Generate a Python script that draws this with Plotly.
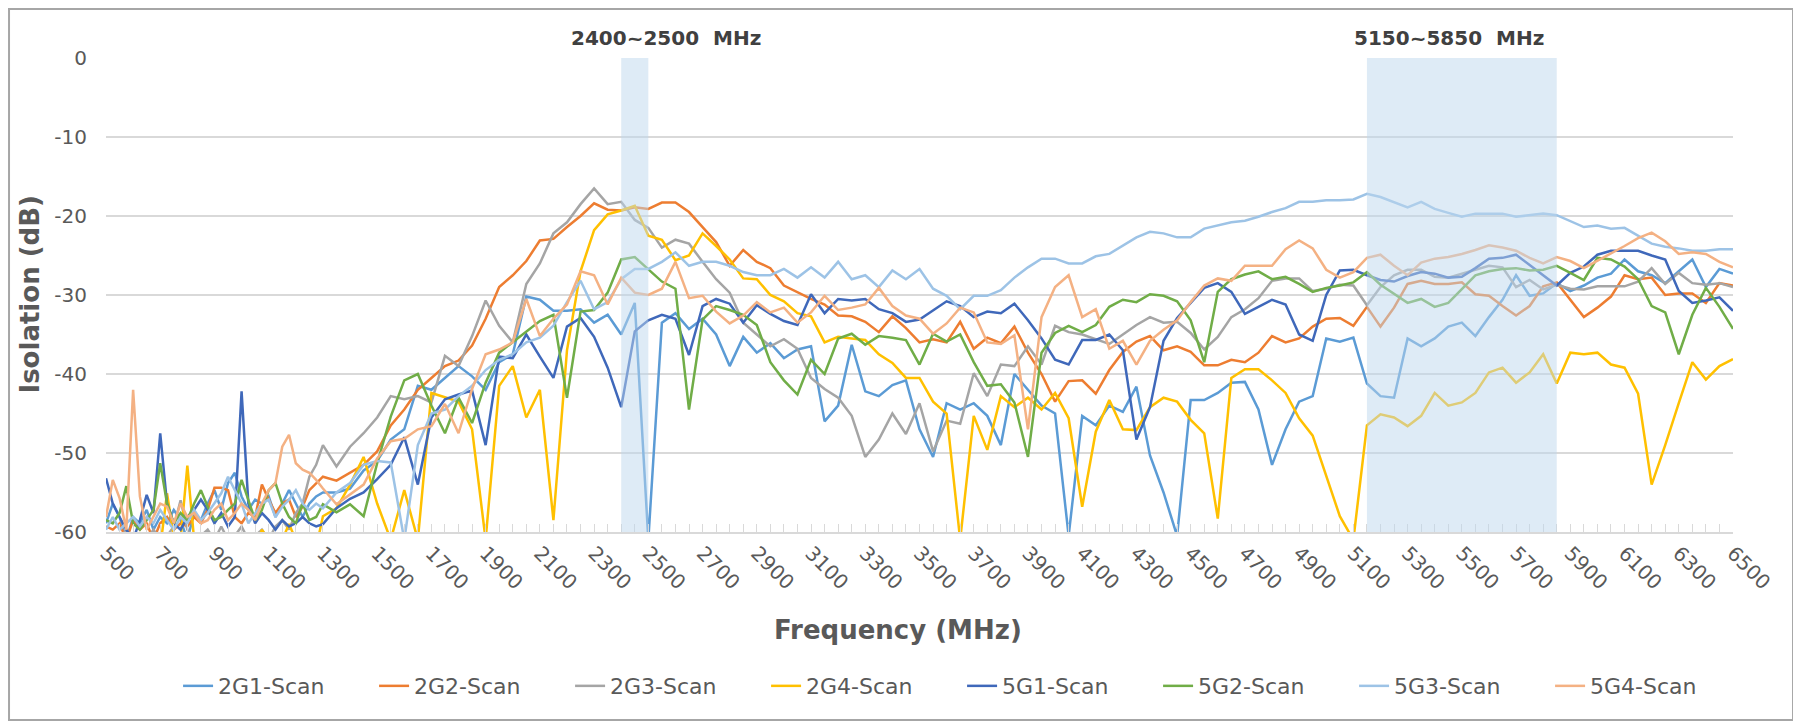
import plotly.graph_objects as go

# Frequency categories (MHz): 25 MHz steps in the noisy low band, 50 MHz afterwards
FREQ = list(range(500, 1300, 25)) + list(range(1300, 6550, 50))

SERIES_NAMES = ["2G1-Scan", "2G2-Scan", "2G3-Scan", "2G4-Scan",
                "5G1-Scan", "5G2-Scan", "5G3-Scan", "5G4-Scan"]
SERIES_COLORS = ["#5B9BD5", "#ED7D31", "#A5A5A5", "#FFC000",
                 "#3F68BA", "#70AD47", "#9DC3E6", "#F4B183"]

Y_TICK_VALS = [0, -10, -20, -30, -40, -50, -60]
Y_TICK_TEXT = ["0", "-10", "-20", "-30", "-40", "-50", "-60"]

g2_1 = [-58.9, -56.4, -58.1, -61, -58.1, -58.9, -57.2, -59.7, -58.1, -58.9, -57.2, -58.5, -61, -57.6, -58.5, -56.4,
        -54.7, -57.2, -53.8, -52.5, -55.5, -57.2, -55.9, -56.4, -55.5, -58.1, -56.4, -54.7, -56.4, -58.1, -56.4, -55.5,
        -55, -55, -54.5, -52.2, -51, -48.3, -47, -41.5, -42, -40.5, -39, -40.3, -42, -38.5, -37.5,
        -30.2, -30.6, -32, -32, -31.8, -33.5, -32.5, -35, -31, -61, -33.5, -32.3, -34.3, -33, -35,
        -39, -35.3, -37.3, -36.1, -38, -36.9, -36.5, -46, -44, -36.3, -42.2, -42.8, -41.4, -40.8, -47,
        -50.5, -43.7, -44.5, -43.7, -45.3, -49, -40, -42, -44, -45, -60.5, -45.3, -46.5, -44, -44.8,
        -41.6, -50.3, -55, -60.5, -43.3, -43.3, -42.4, -41.1, -41, -44.5, -51.5, -47, -43.5, -42.8, -35.5,
        -35.9, -35.4, -41.2, -42.8, -43, -35.5, -36.5, -35.5, -34, -33.5, -35.2, -32.8, -30.6, -27.5, -30.1,
        -29.8, -28.5, -29.5, -28.8, -27.8, -27.3, -25.5, -27, -27.5, -28.5, -27, -25.5, -29, -26.7, -27.3]

g2_2 = [-59.3, -59.7, -58.9, -61, -58.5, -59.7, -58.9, -61, -58.9, -58.1, -59.7, -58.9, -59.3, -58.1, -58.9, -57.2,
        -54.4, -54.4, -54.7, -58.1, -58.9, -57.6, -58.1, -54, -55.9, -57.6, -56.4, -55.9, -58.1, -56.8, -54.7, -53.8,
        -53, -53.5, -52.5, -51.5, -49.8, -46.5, -44.5, -42, -40.5, -39, -38.3, -36.4, -33, -29, -27.5,
        -25.7, -23.1, -22.9, -21.4, -20, -18.4, -19.2, -19.3, -18.9, -19.1, -18.3, -18.3, -19.5, -21.4, -23.3,
        -26.3, -24.3, -25.8, -26.6, -28.8, -29.7, -30.5, -31.2, -32.6, -32.7, -33.4, -34.7, -32.7, -34.2, -36,
        -35.6, -36, -33.4, -36.8, -35.4, -36.1, -34, -37.3, -40, -43.5, -40.9, -40.8, -42.5, -39.5, -37.2,
        -35.9, -35.2, -37, -36.5, -37.2, -38.9, -38.9, -38.2, -38.5, -37.3, -35.2, -36, -35.5, -34, -33,
        -32.9, -33.9, -31.5, -34, -31.6, -28.6, -28.2, -28.6, -28.6, -28.4, -29.9, -30.1, -31.4, -32.6, -31.4,
        -28.9, -28.4, -30.6, -32.8, -31.6, -30.2, -27.5, -28, -27.8, -30, -29.8, -29.8, -31, -28.5, -28.8]

g2_3 = [-61, -60.5, -61, -59.7, -61, -60.5, -61, -59.7, -61, -60.5, -59.3, -56, -59.7, -61, -60.5, -59.7,
        -61, -59.3, -61, -60.5, -59.3, -61, -60.5, -59.7, -61, -59.3, -58.5, -59.7, -57.6, -56.4, -53, -51.5,
        -49, -51.7, -49.2, -47.5, -45.5, -42.8, -43.2, -42.8, -43.6, -37.7, -39, -35.2, -30.7, -33.9, -36,
        -28.6, -26, -22.2, -20.8, -18.5, -16.5, -18.5, -18.2, -20.5, -21.5, -24, -23, -23.5, -25.8, -28,
        -29.7, -33.5, -35, -36.5, -35.6, -36.8, -40.5, -41.9, -43, -45.3, -50.5, -48.3, -45, -47.6, -43.7,
        -49.8, -45.9, -46.3, -39.9, -42.8, -38.8, -39, -36.5, -38.8, -33.9, -34.7, -35, -35.6, -36.2, -35,
        -33.8, -32.8, -33.5, -33.4, -34.8, -36.9, -35.3, -32.8, -31.8, -30.4, -28.2, -27.9, -27.9, -29.5, -29.2,
        -28.7, -28.8, -31.3, -29, -27.5, -26.8, -26.8, -27.7, -27.8, -27.3, -26.8, -26.3, -26.5, -29, -28.1,
        -29.3, -28.7, -29.2, -29.3, -28.9, -28.9, -28.9, -28.3, -26.6, -28.6, -27.2, -28.5, -28.7, -28.5, -29]

g2_4 = [-62, -61, -62, -60.5, -62, -61, -62, -61, -62, -55.1, -60.5, -61, -51.6, -61, -62, -61,
        -62, -61, -62, -61, -62, -61, -62, -59.7, -61, -62, -61, -59, -61, -62, -61, -62,
        -58, -57, -54, -50.5, -56.4, -61, -54.7, -61, -42.4, -43, -43.5, -47, -61, -41.5, -39,
        -45.5, -42, -58.5, -37, -27, -21.8, -19.8, -19.3, -18.7, -22.5, -23, -25.6, -25, -22.2, -23.8,
        -25.5, -27.9, -28, -30, -30.8, -32.3, -32.7, -36, -35.3, -35.5, -35.7, -37.5, -38.6, -40.5, -40.5,
        -43.5, -45, -61, -45.3, -49.6, -42.8, -44.2, -43, -44.5, -42.4, -45.6, -56.8, -47.3, -43.3, -47,
        -47.1, -44.2, -43, -43.5, -45.8, -47.5, -58.3, -40.5, -39.4, -39.4, -40.8, -42.4, -45.6, -47.8, -53,
        -58, -61, -46.5, -45.1, -45.5, -46.6, -45.3, -42.4, -44, -43.6, -42.4, -39.8, -39.2, -41.1, -39.8,
        -37.5, -41.2, -37.3, -37.5, -37.3, -38.8, -39.2, -42.5, -54, -49, -43.7, -38.5, -40.7, -39, -38.1]

g5_1 = [-53.2, -56.4, -58.1, -59.7, -61, -58.5, -55.3, -57.6, -47.5, -56.4, -58.9, -59.7, -58.1, -57.2, -55.9, -57.2,
        -58.9, -57.6, -59.3, -58.1, -42.2, -56.4, -58.9, -57.6, -58.5, -59.7, -58.5, -59.3, -58.9, -58.1, -58.9, -59.3,
        -59, -57, -55.8, -55, -53.3, -51.5, -48, -54, -45.5, -43.2, -42.6, -42.1, -49, -37.8, -38,
        -35, -37.8, -40.5, -34, -32.9, -35.3, -39.2, -44.2, -34.6, -33.2, -32.5, -33, -37.6, -31.4, -30.5,
        -31.1, -33.5, -31.3, -32.4, -33.3, -33.8, -29.9, -32.3, -30.5, -30.7, -30.5, -31.8, -32.3, -33.4, -33.1,
        -31.9, -30.8, -31.4, -32.8, -32.1, -32.3, -31.1, -33.2, -35.5, -38.2, -38.8, -35.7, -35.7, -35, -37,
        -48.3, -44.2, -35.8, -32.9, -31, -29.1, -28.5, -29.6, -32.4, -31.5, -30.6, -31.2, -35, -35.8, -30,
        -26.9, -26.8, -27.5, -28.1, -28.3, -27.6, -27.1, -27.3, -27.8, -27.7, -26.6, -25.4, -25.3, -24.9, -26.2,
        -27.5, -28.8, -27.2, -26.4, -24.9, -24.4, -24.4, -24.4, -25, -25.5, -29.5, -31, -30.7, -30.3, -32]

g5_2 = [-58.5, -58.9, -57.6, -54.2, -58.9, -59.7, -58.5, -57.2, -51.3, -56.4, -58.9, -57.6, -58.5, -56.4, -54.7, -56.8,
        -58.5, -58.1, -57.2, -56.4, -53.4, -55.9, -58.5, -57.2, -54.7, -53.8, -56.4, -58.1, -58.9, -56.4, -58.5, -58.1,
        -56.5, -57.5, -56.5, -58, -51.3, -45.4, -40.8, -40, -44, -47.5, -43, -46.2, -41.1, -37.3, -36,
        -34.6, -33.3, -32.5, -43, -32.1, -31.9, -29.7, -25.5, -25.2, -26.8, -28.3, -29.2, -44.5, -33.1, -31.4,
        -31.9, -32.5, -33.8, -38.5, -40.8, -42.6, -38.2, -40, -35.5, -34.9, -36.3, -35.2, -35.4, -35.7, -38.8,
        -34.9, -35.9, -35, -38.5, -41.5, -41.3, -43.6, -50.5, -37.3, -34.8, -33.9, -34.7, -33.8, -31.5, -30.6,
        -30.9, -29.9, -30.1, -30.8, -33.2, -38.5, -29.6, -28, -27.4, -27, -28, -27.7, -28.6, -29.6, -29.1,
        -28.8, -28.4, -27.1, -28.7, -29.8, -31, -30.5, -31.5, -31, -29.2, -27.5, -27, -26.7, -26.6, -26.9,
        -26.8, -26.3, -27.2, -28.1, -25.3, -25.5, -26.4, -28, -31.4, -32.2, -37.5, -32.5, -29.1, -31.5, -34.3]

g5_3 = [-59.7, -58.1, -59.7, -58.9, -58.1, -59.3, -58.1, -58.9, -57.2, -58.5, -59.7, -58.1, -58.9, -57.2, -58.5, -57.6,
        -56.4, -55.1, -53, -54.7, -56.4, -58.9, -57.6, -56.4, -55.9, -58.1, -56.8, -55.9, -54.7, -56.4, -57.2, -56.4,
        -57, -55, -53.8, -51.5, -51, -51.2, -61, -49, -45, -44.5, -42.8, -41.5, -39.5, -38.2, -37.5,
        -36, -35.4, -33.9, -30.9, -28.2, -31.8, -30.9, -28, -26.7, -26.7, -25.8, -24.6, -26.3, -25.8, -25.8,
        -26.3, -27.1, -27.5, -27.5, -26.7, -27.8, -26.5, -27.8, -25.8, -28, -27.5, -29, -26.9, -28, -26.7,
        -29.2, -30.1, -31.8, -30.1, -30.1, -29.4, -27.8, -26.5, -25.4, -25.4, -26, -26, -25.1, -24.8, -23.7,
        -22.7, -22, -22.2, -22.7, -22.7, -21.6, -21.2, -20.8, -20.6, -20.1, -19.5, -19, -18.2, -18.2, -18,
        -18, -17.9, -17.2, -17.6, -18.2, -18.9, -18.2, -19.1, -19.6, -20.1, -19.7, -19.7, -19.7, -20.1, -19.9,
        -19.7, -19.9, -20.6, -21.4, -21.2, -21.6, -21.5, -22.5, -23.5, -23.9, -24.1, -24.4, -24.4, -24.2, -24.2]

g5_4 = [-58.1, -53.4, -55.7, -59.7, -42, -55.5, -59.7, -58.1, -56.4, -56.8, -58.9, -56.4, -58.1, -57.6, -58.9, -58.5,
        -57.2, -56.4, -58.5, -57.6, -56.4, -57.2, -58.5, -56.4, -54.7, -53.8, -49.2, -47.7, -51.3, -52.1, -52.5, -53.4,
        -54.5, -56.5, -55.2, -54, -50.7, -48.5, -48.2, -47, -46.6, -43.8, -47.5, -41.9, -37.5, -36.9, -36,
        -30.5, -35.2, -33, -31.2, -27, -27.5, -31.2, -27.8, -29.7, -30, -29.2, -25.8, -30.4, -30.1, -32.1,
        -33.6, -32.6, -30.9, -32.2, -31.6, -33.5, -32.2, -30.1, -31.9, -31.6, -31.2, -29.1, -31.4, -32.6, -33,
        -34.9, -33.6, -31.6, -32.2, -36, -36.2, -35.1, -47, -32.8, -29, -27.5, -32.8, -31.8, -36.8, -35.8,
        -38.8, -35.8, -34.4, -33.2, -30.9, -28.8, -27.9, -28.2, -26.3, -26.3, -26.3, -24.2, -23.1, -24.1, -26.8,
        -27.8, -27.1, -25.3, -24.9, -26.3, -27.5, -25.9, -25.4, -25.2, -24.8, -24.3, -23.7, -24, -24.4, -25.3,
        -26, -25.2, -25.7, -26.6, -25.7, -24.8, -23.8, -22.8, -22.1, -23.2, -24.8, -24.6, -24.8, -25.8, -26.5]

SERIES_VALUES = [g2_1, g2_2, g2_3, g2_4, g5_1, g5_2, g5_3, g5_4]

BANDS = [(2400, 2500), (5150, 5850)]
BAND_LABELS = ["2400~2500  MHz", "5150~5850  MHz"]
BAND_LABEL_X = [2565, 5452]

for v in SERIES_VALUES:
    assert len(v) == len(FREQ), len(v)

FONT = "DejaVu Sans"
fig = go.Figure()
for name, vals, col in zip(SERIES_NAMES, SERIES_VALUES, SERIES_COLORS):
    fig.add_trace(go.Scatter(x=FREQ, y=vals, mode="lines", name=name,
                             line=dict(color=col, width=2.5)))

for (a, b) in BANDS:
    fig.add_shape(type="rect", xref="x", yref="y", x0=a, x1=b, y0=-60, y1=0,
                  fillcolor="rgba(189,215,238,0.5)", line=dict(width=0), layer="above")

for txt, xv in zip(BAND_LABELS, BAND_LABEL_X):
    fig.add_annotation(x=xv, xref="x", y=1.042, yref="paper", text="<b>" + txt + "</b>",
                       showarrow=False, font=dict(family=FONT, size=20, color="#404040"),
                       xanchor="center", yanchor="middle")

fig.add_annotation(x=0.487, xref="paper", y=-0.207, yref="paper", text="<b>Frequency (MHz)</b>",
                   showarrow=False, font=dict(family=FONT, size=26, color="#595959"),
                   xanchor="center", yanchor="middle")
fig.add_annotation(x=-0.047, xref="paper", y=0.5, yref="paper", text="<b>Isolation (dB)</b>",
                   showarrow=False, textangle=-90, font=dict(family=FONT, size=26, color="#595959"),
                   xanchor="center", yanchor="middle")

# chart border
fig.add_shape(type="rect", xref="paper", yref="paper", x0=-0.0596, x1=1.0369, y0=-0.3966, y1=1.1034,
              line=dict(color="#A6A6A6", width=2), fillcolor="rgba(0,0,0,0)", layer="below")

# page body has an 8px margin, so the figure is drawn 8px smaller and shifted accordingly
fig.update_layout(
    width=1793, height=715,
    margin=dict(l=98, r=68, t=50, b=191),
    paper_bgcolor="white", plot_bgcolor="white",
    font=dict(family=FONT, color="#595959"),
    showlegend=True,
    legend=dict(orientation="h", x=0.0443, xanchor="left", y=-0.325, yanchor="middle",
                font=dict(family=FONT, size=22, color="#595959"),
                entrywidth=151, entrywidthmode="pixels", itemwidth=30,
                bgcolor="rgba(0,0,0,0)"),
    xaxis=dict(range=[500, 6500], tickmode="linear", tick0=500, dtick=200, tickangle=45,
               tickfont=dict(family=FONT, size=20, color="#595959"),
               ticks="inside", ticklen=8, tickcolor="#D9D9D9", tickwidth=1,
               showline=True, linecolor="#D9D9D9", linewidth=1.5,
               showgrid=False, zeroline=False,
               minor=dict(tick0=500, dtick=50, ticks="inside", ticklen=8, tickcolor="#D9D9D9",
                          tickwidth=1, showgrid=False)),
    yaxis=dict(range=[-60, 0], tickmode="array", tickvals=Y_TICK_VALS, ticktext=Y_TICK_TEXT,
               tickfont=dict(family=FONT, size=20, color="#595959"),
               showgrid=True, gridcolor="#D9D9D9", gridwidth=1.5, zeroline=False,
               showline=False, ticklabelstandoff=18),
)

fig.write_html("out.html")
